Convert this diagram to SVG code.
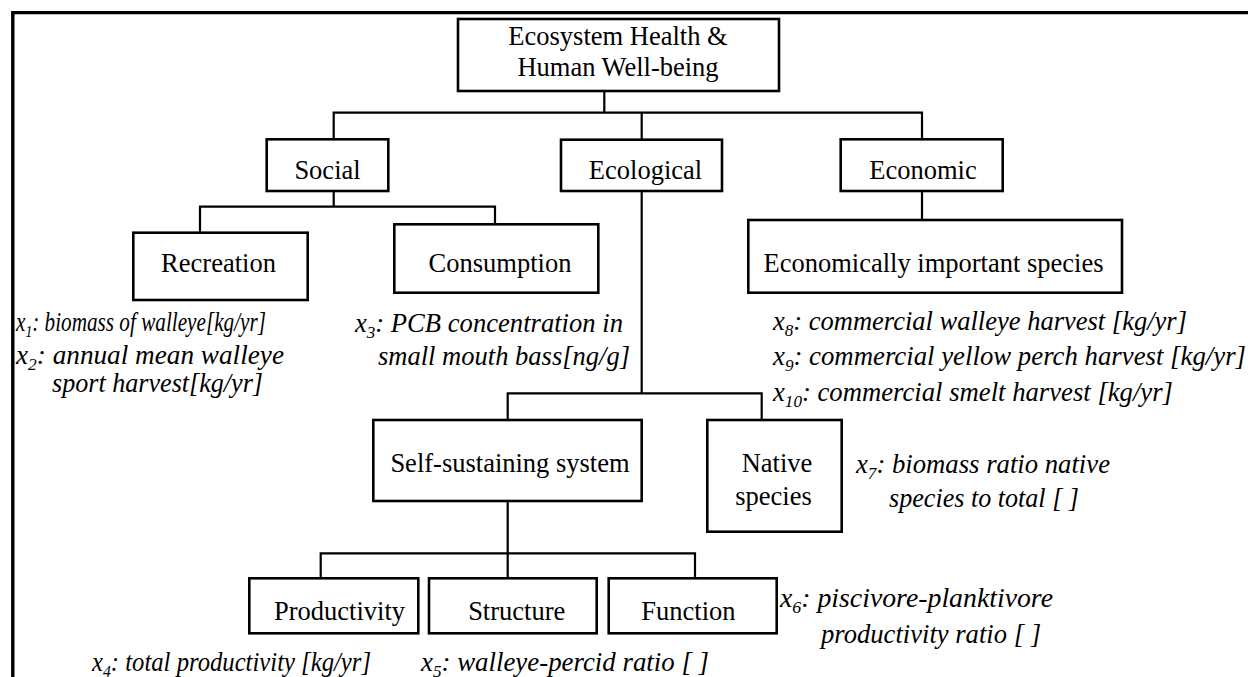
<svg xmlns="http://www.w3.org/2000/svg" width="1248" height="677" viewBox="0 0 1248 677">
<style>
.box{fill:#fff;stroke:#000;stroke-width:2.6}
.n{font-family:"Liberation Serif","Times New Roman",serif;font-size:26.5px;fill:#000;text-anchor:middle}
.l{font-family:"Liberation Serif","Times New Roman",serif;font-size:26.5px;font-style:italic;fill:#000}
.s{font-size:17px}
.c{fill:none;stroke:#000;stroke-width:2.2}
</style>
<rect width="1248" height="677" fill="#fff"/>
<path d="M12.8 677 V12.6 H1248" fill="none" stroke="#000" stroke-width="3.4"/>
<g id="connectors" class="c">
<path d="M604.3 91 V112.7 M333.7 139.3 V112.7 H922 V139.3 M641.7 112.7 V139.7"/>
<path d="M333.7 191 V206.7 M200 233 V206.7 H495 V224"/>
<path d="M922 191 V220"/>
<path d="M641.7 191 V393.3 M507.7 420 V393.3 H761.7 V420"/>
<path d="M507.7 501 V578 M320.7 578 V553.3 H695 V578"/>
</g>
<g id="root"><rect class="box" x="458" y="19" width="321" height="72"/><text class="n" x="618" y="45">Ecosystem Health &amp;</text><text class="n" x="618" y="76">Human Well-being</text></g>
<g id="social"><rect class="box" x="266.7" y="139.3" width="121.6" height="51.7"/><text class="n" x="327.5" y="179">Social</text></g>
<g id="ecological"><rect class="box" x="561" y="139.7" width="161" height="51.3"/><text class="n" x="645.5" y="179">Ecological</text></g>
<g id="economic"><rect class="box" x="840.7" y="139.3" width="162" height="51.7"/><text class="n" x="923" y="179">Economic</text></g>
<g id="recreation"><rect class="box" x="133.3" y="232.7" width="174.4" height="67.3"/><text class="n" x="218.5" y="272">Recreation</text></g>
<g id="consumption"><rect class="box" x="394.3" y="224.3" width="204" height="68.4"/><text class="n" x="500" y="272">Consumption</text></g>
<g id="econ-species"><rect class="box" x="748.3" y="220" width="373.7" height="72.7"/><text class="n" x="933.5" y="272">Economically important species</text></g>
<g id="self-sustaining"><rect class="box" x="373.3" y="420" width="268.4" height="81"/><text class="n" x="510" y="472">Self-sustaining system</text></g>
<g id="native"><rect class="box" x="707.3" y="420" width="134.4" height="111.7"/><text class="n" x="777" y="472">Native</text><text class="n" x="773.5" y="505">species</text></g>
<g id="productivity"><rect class="box" x="249.3" y="578.3" width="169" height="55"/><text class="n" x="339.5" y="620">Productivity</text></g>
<g id="structure"><rect class="box" x="429" y="578.3" width="167.7" height="55"/><text class="n" x="516.7" y="620">Structure</text></g>
<g id="function"><rect class="box" x="608.7" y="578.3" width="168" height="55"/><text class="n" x="688.4" y="620">Function</text></g>
<g id="labels">
<text class="l" x="16" y="331" textLength="250" lengthAdjust="spacingAndGlyphs">x<tspan class="s" dy="6">1</tspan><tspan dy="-6">: biomass of walleye[kg/yr]</tspan></text>
<text class="l" x="16" y="364" textLength="268" lengthAdjust="spacingAndGlyphs">x<tspan class="s" dy="6">2</tspan><tspan dy="-6">: annual mean walleye</tspan></text>
<text class="l" x="52" y="392" textLength="211" lengthAdjust="spacingAndGlyphs">sport harvest[kg/yr]</text>
<text class="l" x="355" y="332" textLength="268" lengthAdjust="spacingAndGlyphs">x<tspan class="s" dy="6">3</tspan><tspan dy="-6">: PCB concentration in</tspan></text>
<text class="l" x="378" y="365" textLength="252" lengthAdjust="spacingAndGlyphs">small mouth bass[ng/g]</text>
<text class="l" x="773" y="330" textLength="414" lengthAdjust="spacingAndGlyphs">x<tspan class="s" dy="6">8</tspan><tspan dy="-6">: commercial walleye harvest [kg/yr]</tspan></text>
<text class="l" x="773" y="365" textLength="473" lengthAdjust="spacingAndGlyphs">x<tspan class="s" dy="6">9</tspan><tspan dy="-6">: commercial yellow perch harvest [kg/yr]</tspan></text>
<text class="l" x="773" y="401" textLength="400" lengthAdjust="spacingAndGlyphs">x<tspan class="s" dy="6">10</tspan><tspan dy="-6">: commercial smelt harvest [kg/yr]</tspan></text>
<text class="l" x="856" y="473" textLength="254" lengthAdjust="spacingAndGlyphs">x<tspan class="s" dy="6">7</tspan><tspan dy="-6">: biomass ratio native</tspan></text>
<text class="l" x="889" y="507" textLength="190" lengthAdjust="spacingAndGlyphs">species to total [ ]</text>
<text class="l" x="780" y="607" textLength="273" lengthAdjust="spacingAndGlyphs">x<tspan class="s" dy="6">6</tspan><tspan dy="-6">: piscivore-planktivore</tspan></text>
<text class="l" x="821" y="643" textLength="220" lengthAdjust="spacingAndGlyphs">productivity ratio [ ]</text>
<text class="l" x="92" y="671" textLength="279" lengthAdjust="spacingAndGlyphs">x<tspan class="s" dy="6">4</tspan><tspan dy="-6">: total productivity [kg/yr]</tspan></text>
<text class="l" x="421" y="671" textLength="288" lengthAdjust="spacingAndGlyphs">x<tspan class="s" dy="6">5</tspan><tspan dy="-6">: walleye-percid ratio [ ]</tspan></text>
</g>
</svg>
